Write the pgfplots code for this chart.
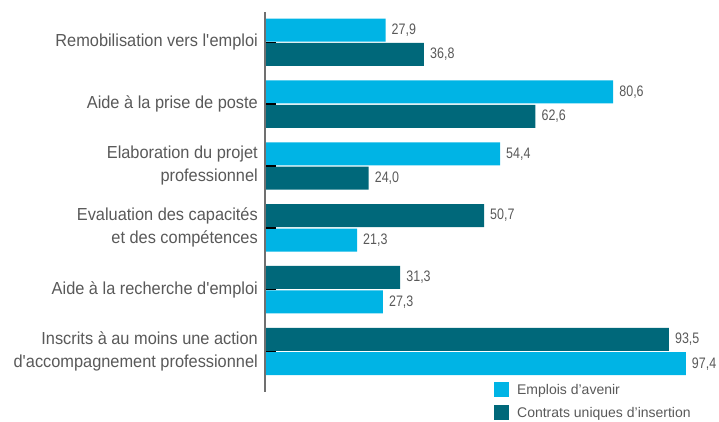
\documentclass[border=0pt]{standalone}
\usepackage{pgfplots}
\pgfplotsset{compat=1.18}
\usepackage{fontspec}
\setmainfont{Liberation Sans}
\newfontfamily\numfont{Liberation Sans}[FakeStretch=0.82]
\newfontfamily\catfont{Liberation Sans}[FakeStretch=0.94]
\definecolor{lightb}{HTML}{00B4E5}
\definecolor{darkb}{HTML}{00687A}
\definecolor{txt}{HTML}{595959}
\definecolor{axgray}{HTML}{707070}
\begin{document}
\begin{tikzpicture}
\useasboundingbox (-265pt,-29pt) rectangle (454pt,392pt);
\begin{axis}[
  at={(0pt,0pt)}, anchor=south west,
  scale only axis, width=432pt, height=380pt,
  xmin=0, xmax=100, ymin=-0.49, ymax=5.655,
  y dir=reverse,
  xbar, bar shift=0pt, bar width=0.372,
  axis x line=none,
  axis y line=left,
  y axis line style={-, draw=axgray, line width=2pt},
  ytick={0,1,2,3,4,5},
  yticklabels={
    {Remobilisation vers l\textquotesingle emploi},
    {Aide à la prise de poste},
    {Elaboration du projet \\ professionnel},
    {Evaluation des capacités \\ et des compétences},
    {Aide à la recherche d\textquotesingle emploi},
    {Inscrits à au moins une action \\ d\textquotesingle accompagnement professionnel}},
  yticklabel style={font=\catfont\fontsize{17.4}{23}\selectfont, align=right, text=txt, inner sep=0pt, xshift=-7pt},
  tick align=inside,
  major tick length=11pt,
  tick style={black, line width=1.6pt},
  axis on top,
  clip=false,
  nodes near coords,
  /pgf/number format/.cd, fixed, fixed zerofill, precision=1, use comma, assume math mode=true,
  /pgfplots/.cd,
  every node near coord/.append style={anchor=west, inner sep=0pt, xshift=6pt, text=txt, font=\numfont\fontsize{15.2}{17}\selectfont},
  legend style={at={(0.530,0.0263)}, anchor=north west, draw=none, fill=none, inner sep=0pt,
    row sep=8pt, column sep=8pt,
    nodes={inner sep=0pt, text=txt, font=\fontsize{14}{16}\selectfont}},
  legend cell align=left,
  legend image code/.code={\fill[#1] (0pt,-7.5pt) rectangle (15pt,7.5pt);},
]
\addplot[fill=lightb, draw=none] coordinates {
  (27.9,-0.197) (80.6,0.803) (54.4,1.803) (21.3,3.197) (27.3,4.197) (97.4,5.197)};
\addplot[fill=darkb, draw=none] coordinates {
  (36.8,0.197) (62.6,1.197) (24.0,2.197) (50.7,2.803) (31.3,3.803) (93.5,4.803)};
\legend{Emplois d’avenir, Contrats uniques d’insertion}
\end{axis}
\end{tikzpicture}
\end{document}
